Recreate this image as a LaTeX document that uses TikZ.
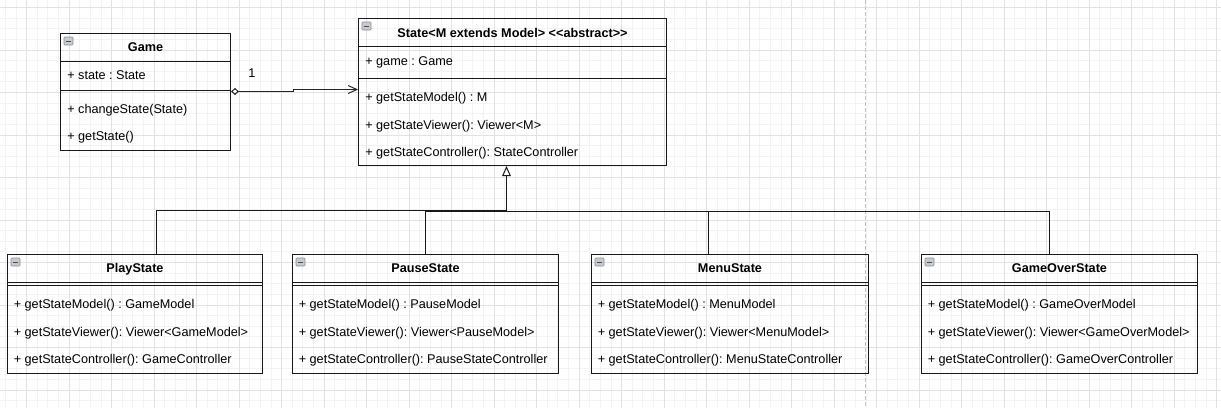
\documentclass[tikz,border=0pt]{standalone}
\usepackage{fontspec}
\setmainfont{Liberation Sans}
\usetikzlibrary{arrows.meta, fit, calc}
\definecolor{GridMinor}{RGB}{243,243,243}
\definecolor{GridMajor}{RGB}{226,226,226}
\definecolor{PageBreak}{RGB}{196,196,196}
\definecolor{IconGray}{RGB}{198,203,210}
\frenchspacing

\begin{document}
\begin{tikzpicture}[
                    x=0.75pt, y=-0.75pt,
                    classbox/.style={draw=black!90, line width=0.75pt, inner sep=0pt},
                    sep/.style={draw=black!90, line width=0.75pt},
                    title/.style={font=\fontsize{9.5}{11}\selectfont\bfseries, inner sep=0pt, text height=6.8pt, text depth=0pt},
                    member/.style={font=\fontsize{9.5}{11}\selectfont, anchor=west, inner sep=0pt, text height=6.8pt, text depth=0pt},
                    icon/.style={draw=gray!90, fill=IconGray, line width=0.4pt, rounded corners=0.6pt},
                    assoc/.style={draw=black!85, line width=0.75pt},
                    inherit/.style={draw=black!90, line width=0.75pt}
                ]
                    \useasboundingbox (0,0) rectangle (1221,408);
                    % background grid
                    \draw[GridMinor, line width=0.75pt] foreach \x in {5.45,16.075,...,1221} {(\x,0) -- (\x,408)}
                        foreach \y in {7.5,18.125,...,408} {(0,\y) -- (1221,\y)};
                    \draw[GridMajor, line width=0.75pt] foreach \x in {26.7,69.2,...,1221} {(\x,0) -- (\x,408)}
                        foreach \y in {7.5,50,...,408} {(0,\y) -- (1221,\y)};
                    \draw[PageBreak, line width=0.75pt, dash pattern=on 3pt off 1.5pt] (865.5,0) -- (865.5,408);

                    % classes
                    \node[classbox, fit={(60.5,33.5) (230.5,150.5)}] (game) {};
                    \node[classbox, fit={(358.5,18.5) (666.5,165.5)}] (state) {};
                    \node[classbox, fit={(7.5,254.5) (262.5,373.5)}] (play) {};
                    \node[classbox, fit={(292.5,254.5) (558.5,373.5)}] (pause) {};
                    \node[classbox, fit={(591.5,254.5) (868.5,373.5)}] (menu) {};
                    \node[classbox, fit={(921.5,254.5) (1197.5,373.5)}] (over) {};

                    \draw[sep] (game.west |- 0,61.5) -- (game.east |- 0,61.5);
                    \draw[sep] (game.west |- 0,90.5) -- (game.east |- 0,90.5);
                    \draw[sep] (state.west |- 0,46.5) -- (state.east |- 0,46.5);
                    \draw[sep] (state.west |- 0,78.5) -- (state.east |- 0,78.5);
                    \foreach \c in {play,pause,menu,over} {
                        \draw[sep] (\c.west |- 0,282.5) -- (\c.east |- 0,282.5);
                        \draw[sep] (\c.west |- 0,285.5) -- (\c.east |- 0,285.5);
                    }
                    \foreach \c in {game,state,play,pause,menu,over} {
                        \draw[icon] ($(\c.north west)+(4,4)$) rectangle +(9,8);
                        \draw[black!70, line width=0.6pt] ($(\c.north west)+(6,8)$) -- +(5,0);
                    }

                    \node[title] (gametitle) at (game.north |- 0,47) {Game};
                    \node[member] (gamestate) at (67,75) {+ state : State};
                    \node[member] (gamechange) at (67,109) {+ changeState(State)};
                    \node[member] (gameget) at (67,136) {+ getState()};

                    \node[title] (statetitle) at (state.north |- 0,33) {State<M extends Model> <{}<abstract>{}>};
                    \node[member] (stategame) at (365,61) {+ game : Game};
                    \node[member] (statemodel) at (365,97) {+ getStateModel() : M};
                    \node[member] (stateviewer) at (365,124.7) {+ getStateViewer(): Viewer<M>};
                    \node[member] (statectrl) at (365,151.7) {+ getStateController(): StateController};

                    \foreach \c/\t/\m/\k in {play/PlayState/GameModel/GameController,
                                            pause/PauseState/PauseModel/PauseStateController,
                                            menu/MenuState/MenuModel/MenuStateController,
                                            over/GameOverState/GameOverModel/GameOverController} {
                        \node[title] (\c title) at (\c.north |- 0,268.3) {\t};
                        \node[member] (\c model) at ($(\c.west |- 0,304.3)+(6.5,0)$) {+ getStateModel() : \m};
                        \node[member] (\c viewer) at ($(\c.west |- 0,332.3)+(6.5,0)$) {+ getStateViewer(): Viewer<\m>};
                        \node[member] (\c ctrl) at ($(\c.west |- 0,359.3)+(6.5,0)$) {+ getStateController(): \k};
                    }

                    % aggregation
                    \draw[assoc, {Diamond[open, length=6pt, width=5.25pt]}-{Straight Barb[length=6.5pt, width=6pt]}]
                        (game.east |- 0,91.5) -- (293.5,91.5) -- (293.5,89.5) -- (state.west |- 0,89.5);
                    \node[font=\fontsize{9.5}{11}\selectfont, inner sep=0pt] (mult) at (252,73.3) {1};

                    % generalization
                    \coordinate (joint) at (506.5,211.5);
                    \draw[inherit, -{Triangle[open, length=7.5pt, width=6.5pt]}] (156.5,0 |- play.north) |- (506.5,210.5) -- (506.5,0 |- state.south);
                    \draw[inherit] (425.5,0 |- pause.north) |- (joint);
                    \draw[inherit] (708.5,0 |- menu.north) |- (joint);
                    \draw[inherit] (1049.5,0 |- over.north) |- (joint);
                \end{tikzpicture}
\end{document}
